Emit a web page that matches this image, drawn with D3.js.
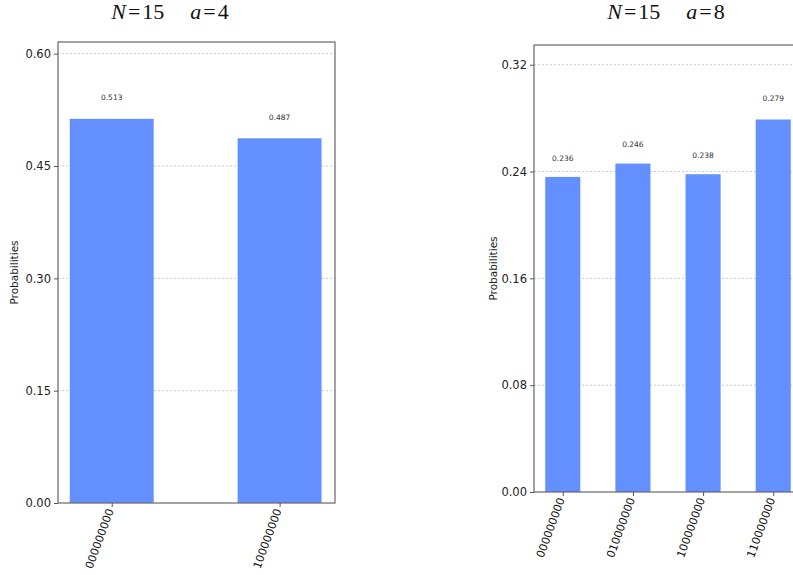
<!DOCTYPE html>
<html><head><meta charset="utf-8">
<script src="https://cdn.jsdelivr.net/npm/d3@7"></script>
<style>body{margin:0;background:#fff}svg{display:block}</style>
</head><body>
<svg id="c" width="793" height="575"></svg>
<script>
// Data
const leftCategories = ["000000000", "100000000"];
const leftValues = [0.513, 0.487];
const leftTicks = [0, 0.15, 0.30, 0.45, 0.60];
const leftTitleN = "15", leftTitleA = "4";

const rightCategories = ["000000000", "010000000", "100000000", "110000000"];
const rightValues = [0.236, 0.246, 0.238, 0.279];
const rightTicks = [0, 0.08, 0.16, 0.24, 0.32];
const rightTitleN = "15", rightTitleA = "8";

const svg = d3.select("#c");
const barColor = "#648fff";

function panel(cfg) {
  const g = svg.append("g");
  const x = d3.scaleLinear().domain(cfg.xDomain).range([cfg.left, cfg.right]);
  const y = d3.scaleLinear().domain([0, d3.max(cfg.values) * 1.2]).range([cfg.bottom, cfg.top]);
  // grid
  g.selectAll(".grid").data(cfg.ticks.filter(t => t > 0)).join("line")
    .attr("x1", cfg.left).attr("x2", cfg.right)
    .attr("y1", d => y(d)).attr("y2", d => y(d))
    .attr("stroke", "#bbb").attr("stroke-width", 0.8).attr("stroke-dasharray", "2,2");
  // bars
  g.selectAll(".bar").data(cfg.values).join("rect")
    .attr("x", (d, i) => x(i - 0.25)).attr("width", (d, i) => x(i + 0.25) - x(i - 0.25))
    .attr("y", d => y(d)).attr("height", d => y(0) - y(d))
    .attr("fill", barColor);
  // value labels
  g.selectAll(".val").data(cfg.values).join("text")
    .attr("x", (d, i) => x(i)).attr("y", d => y(d * 1.05))
    .attr("text-anchor", "middle").attr("font-family", "DejaVu Sans").attr("font-size", 7.5)
    .attr("fill", "#333").text(d => d.toFixed(3));
  // frame
  g.append("rect").attr("x", cfg.left).attr("y", cfg.top)
    .attr("width", cfg.right - cfg.left).attr("height", cfg.bottom - cfg.top)
    .attr("fill", "none").attr("stroke", "#666").attr("stroke-width", 1.2);
  // y axis
  const ya = d3.axisLeft(y).tickValues(cfg.ticks).tickFormat(d3.format(".2f")).tickSize(4).tickPadding(3);
  const yg = g.append("g").attr("transform", `translate(${cfg.left},0)`).call(ya);
  yg.select(".domain").remove();
  yg.selectAll("line").attr("stroke", "#555");
  yg.selectAll("text").attr("font-family", "DejaVu Sans").attr("font-size", 11.5).attr("fill", "#222");
  // x axis
  const xa = d3.axisBottom(x).tickValues(cfg.categories.map((c, i) => i))
    .tickFormat(i => cfg.categories[i]).tickSize(4).tickPadding(3);
  const xg = g.append("g").attr("transform", `translate(0,${cfg.bottom})`).call(xa);
  xg.select(".domain").remove();
  xg.selectAll("line").attr("stroke", "#555");
  xg.selectAll("text").attr("font-family", "DejaVu Sans").attr("font-size", 11).attr("fill", "#111")
    .attr("text-anchor", "end").attr("dy", "0.35em")
    .attr("transform", "translate(-2,6) rotate(-70)").attr("x", 0).attr("y", 0);
  // y label
  g.append("text").attr("transform", `translate(${cfg.ylabelX},${(cfg.top + cfg.bottom) / 2}) rotate(-90)`)
    .attr("text-anchor", "middle").attr("font-family", "DejaVu Sans").attr("font-size", 10.5)
    .attr("fill", "#222").text("Probabilities");
  // title
  const t = g.append("text").attr("x", cfg.titleX).attr("y", 19).attr("text-anchor", "middle")
    .attr("font-family", "Liberation Serif").attr("font-size", 22).attr("fill", "#111");
  t.append("tspan").attr("font-style", "italic").text("N");
  t.append("tspan").attr("dx", 2).text("=");
  t.append("tspan").attr("dx", 2).text(cfg.n);
  t.append("tspan").attr("font-style", "italic").attr("dx", 26).text("a");
  t.append("tspan").attr("dx", 2).text("=");
  t.append("tspan").attr("dx", 2).text(cfg.a);
}

panel({categories: leftCategories, values: leftValues, ticks: leftTicks, n: leftTitleN, a: leftTitleA,
  left: 58, right: 335, top: 42, bottom: 503, xDomain: [-0.32, 1.33], ylabelX: 18, titleX: 170});
panel({categories: rightCategories, values: rightValues, ticks: rightTicks, n: rightTitleN, a: rightTitleA,
  left: 534, right: 802, top: 45, bottom: 492, xDomain: [-0.41, 3.41], ylabelX: 497, titleX: 666});
</script>
</body></html>
